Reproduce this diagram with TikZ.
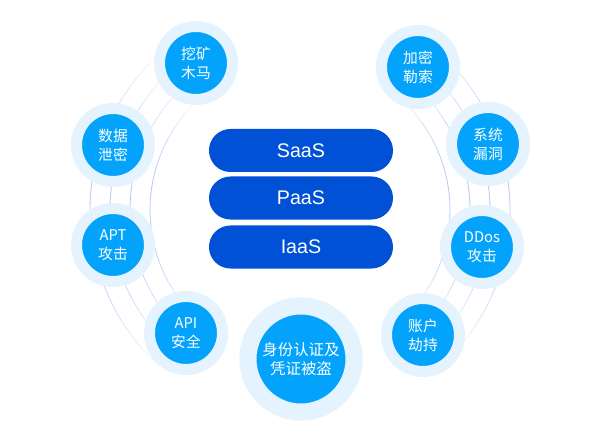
\documentclass[tikz,border=0pt]{standalone}
\usepackage{fontspec}
\setmainfont{Liberation Sans}
\newfontfamily\cjk{Noto Sans CJK SC}
\usepackage{tikz}
\usetikzlibrary{positioning}
\definecolor{skyDot}{HTML}{03A3FC}
\definecolor{skyHalo}{HTML}{E4F3FD}
\definecolor{layerBlue}{HTML}{0151D7}
\definecolor{ringLine}{HTML}{9FB6F0}

\begin{document}
\begin{tikzpicture}[x=0.025cm,y=0.025cm,
  threat/.style={circle,fill=skyDot,draw=skyHalo,line width=0.275cm,
    minimum size=1.825cm,inner sep=0pt,text=white,align=center,
    font=\cjk\fontsize{10.5}{13.5}\selectfont},
  bigthreat/.style={threat,line width=0.43cm,minimum size=2.655cm,
    font=\cjk\fontsize{11}{14}\selectfont},
  layer/.style={rectangle,rounded corners=0.5375cm,fill=layerBlue,
    minimum width=4.6cm,minimum height=1.075cm,text=white,
    font=\fontsize{14}{16}\selectfont},
  ring/.style={ringLine,line width=0.6pt}]
  \useasboundingbox (0,0) rectangle (600,440);
  \coordinate (hub) at (300,230);
  % faint rings behind the threats
  \foreach \r in {150,170,190,210}{
    \foreach \a in {128,132,...,228}{
      \draw[ring,opacity={0.75*sin((\a-128)*1.8)}]
        ([shift={(\a:\r)}]hub) arc (\a:\a+4:\r);}
    \foreach \a in {-48,-44,...,52}{
      \draw[ring,opacity={0.75*sin((\a+48)*1.8)}]
        ([shift={(\a:\r)}]hub) arc (\a:\a+4:\r);}
  }
  \node[layer] (saas) at (301,289.5) {SaaS};
  \node[layer] (paas) at (301,242) {PaaS};
  \node[layer] (iaas) at (301,193) {IaaS};
  \node[threat] (mining) at (196,377) {挖矿\\木马};
  \node[threat] (leak) at (113,295) {数据\\泄密};
  \node[threat] (apt) at (113,195) {APT\\攻击};
  \node[threat] (api) at (186,107) {API\\安全};
  \node[bigthreat] (cred) at (301,81) {身份认证及\\凭证被盗};
  \node[threat] (hijack) at (423,105) {账户\\劫持};
  \node[threat] (ddos) at (482,193) {DDos\\攻击};
  \node[threat] (vuln) at (488,296) {系统\\漏洞};
  \node[threat] (ransom) at (418,373) {加密\\勒索};
\end{tikzpicture}
\end{document}
